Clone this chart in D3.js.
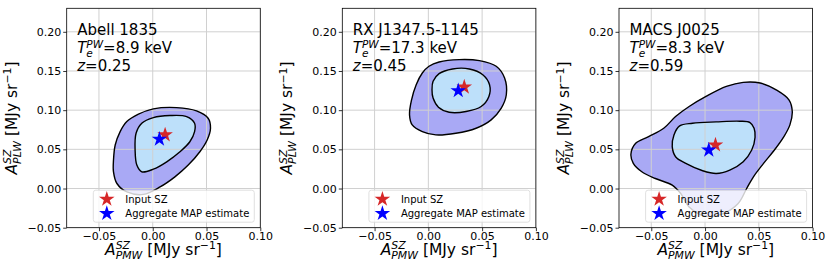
<!DOCTYPE html>
<html>
<head>
<meta charset="utf-8">
<script src="https://cdn.jsdelivr.net/npm/d3@7"></script>
<style>
  body { margin: 0; background: #fff; }
  svg { font-family: "DejaVu Sans", sans-serif; }
</style>
</head>
<body>
<div id="chart"></div>
<script>
// cluster info
const clusters = ["Abell 1835", "RX J1347.5-1145", "MACS J0025"];
const temps = ["8.9", "17.3", "8.3"];
const redshifts = ["0.25", "0.45", "0.59"];

// star markers [A_PMW, A_PLW]
const inputSZ = [[0.0115, 0.0685], [0.0334, 0.1295], [0.0097, 0.0556]];
const mapEstimate = [[0.0062, 0.0630], [0.0278, 0.1248], [0.0035, 0.0491]];

// outer (95%) contours
const outer1 = [[-0.0365, 0.0363], [-0.0349, 0.0555], [-0.0303, 0.0726], [-0.0241, 0.0854], [-0.0133, 0.0949],
  [0.0006, 0.1017], [0.0222, 0.1033], [0.0407, 0.0991], [0.0515, 0.0897], [0.0537, 0.0769], [0.0506, 0.0619],
  [0.0438, 0.0469], [0.0330, 0.0299], [0.0206, 0.0149], [0.0068, 0.0020], [-0.0087, -0.0075],
  [-0.0240, -0.0044], [-0.0333, 0.0064], [-0.0365, 0.0213]];
const outer2 = [[0.0006, 0.1560], [0.0100, 0.1615], [0.0288, 0.1645], [0.0475, 0.1632], [0.0631, 0.1560],
  [0.0709, 0.1410], [0.0725, 0.1197], [0.0678, 0.1026], [0.0584, 0.0876], [0.0444, 0.0769], [0.0256, 0.0705],
  [0.0069, 0.0684], [-0.0056, 0.0726], [-0.0150, 0.0812], [-0.0175, 0.0940], [-0.0156, 0.1132],
  [-0.0113, 0.1325], [-0.0056, 0.1474]];
const outer3 = [[-0.0689, 0.0440], [-0.0645, 0.0577], [-0.0525, 0.0662], [-0.0384, 0.0769], [-0.0274, 0.0919],
  [-0.0148, 0.1047], [0.0009, 0.1175], [0.0198, 0.1303], [0.0355, 0.1355], [0.0513, 0.1346], [0.0670, 0.1252],
  [0.0780, 0.1132], [0.0811, 0.0983], [0.0789, 0.0812], [0.0733, 0.0662], [0.0645, 0.0491], [0.0544, 0.0321],
  [0.0450, 0.0150], [0.0387, 0.0000], [0.0308, -0.0192], [0.0167, -0.0321], [0.0009, -0.0355],
  [-0.0148, -0.0235], [-0.0226, -0.0064], [-0.0305, 0.0043], [-0.0462, 0.0128], [-0.0588, 0.0214],
  [-0.0667, 0.0321]];

// inner (68%) contours
const inner1 = [[-0.0155, 0.0705], [-0.0102, 0.0833], [0.0006, 0.0905], [0.0160, 0.0931], [0.0315, 0.0918],
  [0.0389, 0.0833], [0.0389, 0.0726], [0.0345, 0.0597], [0.0253, 0.0469], [0.0130, 0.0341], [0.0006, 0.0247],
  [-0.0102, 0.0213], [-0.0148, 0.0299], [-0.0164, 0.0491]];
const inner2 = [[0.0044, 0.1368], [0.0100, 0.1466], [0.0225, 0.1526], [0.0381, 0.1526], [0.0506, 0.1453],
  [0.0569, 0.1325], [0.0563, 0.1175], [0.0491, 0.1047], [0.0350, 0.0983], [0.0194, 0.0974], [0.0094, 0.1038],
  [0.0044, 0.1154], [0.0034, 0.1261]];
const inner3 = [[-0.0289, 0.0684], [-0.0236, 0.0799], [-0.0116, 0.0833], [0.0104, 0.0850], [0.0324, 0.0859],
  [0.0418, 0.0842], [0.0456, 0.0769], [0.0465, 0.0654], [0.0434, 0.0491], [0.0355, 0.0342], [0.0230, 0.0235],
  [0.0104, 0.0192], [-0.0022, 0.0227], [-0.0179, 0.0321], [-0.0274, 0.0406], [-0.0305, 0.0534]];

const outerContours = [outer1, outer2, outer3];
const innerContours = [inner1, inner2, inner3];

const xTicks = [-0.05, 0.00, 0.05, 0.10];
const yTicks = [-0.05, 0.00, 0.05, 0.10, 0.15, 0.20];
const legendLabels = ["Input SZ", "Aggregate MAP estimate"];

const W = 830, H = 272;
const panelLeft = [66.7, 342.3, 619];
const pw = 193.6, plotTop = 8.3, ph = 219.4;

const svg = d3.select("#chart").append("svg")
  .attr("width", W).attr("height", H);

// draws a row of text pieces (with super/subscripts), returns width
function mathText(g, parts, size) {
  let x = 0, prevStart = 0, prevW = 0;
  parts.forEach(p => {
    const fs = p.script ? size * 0.7 : size;
    let start = p.stack ? prevStart : x;
    const dy = p.script === "sup" ? -size * 0.34 : p.script === "sub" ? size * 0.25 : 0;
    const t = g.append("text")
      .attr("x", start).attr("y", dy)
      .attr("font-size", fs)
      .attr("font-style", p.italic ? "italic" : "normal")
      .attr("fill", "#000")
      .text(p.t);
    const w = t.node().getComputedTextLength();
    if (p.stack) x = Math.max(prevStart + prevW, start + w);
    else x = start + w;
    prevStart = start; prevW = w;
  });
  return x;
}

const fmt = d3.format(".2f");

clusters.forEach((name, i) => {
  const x = d3.scaleLinear().domain([-0.08, 0.10]).range([panelLeft[i], panelLeft[i] + pw]);
  const y = d3.scaleLinear().domain([-0.05, 0.23]).range([plotTop + ph, plotTop]);

  const g = svg.append("g");
  const clipId = "clip" + i;
  g.append("clipPath").attr("id", clipId).append("rect")
    .attr("x", panelLeft[i]).attr("y", plotTop).attr("width", pw).attr("height", ph);

  const line = d3.line().x(d => x(d[0])).y(d => y(d[1])).curve(d3.curveCatmullRomClosed.alpha(0.5));
  const plot = g.append("g").attr("clip-path", `url(#${clipId})`);

  plot.append("path").attr("d", line(outerContours[i]))
    .attr("fill", "#a9a9f5").attr("stroke", "none");
  plot.append("path").attr("d", line(innerContours[i]))
    .attr("fill", "#bde0fa").attr("stroke", "none");

  // grid
  plot.selectAll(".gx").data(xTicks).enter().append("line")
    .attr("x1", d => x(d)).attr("x2", d => x(d))
    .attr("y1", plotTop).attr("y2", plotTop + ph)
    .attr("stroke", "#d0d0d0").attr("stroke-width", 1);
  plot.selectAll(".gy").data(yTicks).enter().append("line")
    .attr("x1", panelLeft[i]).attr("x2", panelLeft[i] + pw)
    .attr("y1", d => y(d)).attr("y2", d => y(d))
    .attr("stroke", "#d0d0d0").attr("stroke-width", 1);

  plot.append("path").attr("d", line(outerContours[i]))
    .attr("fill", "none").attr("stroke", "#000").attr("stroke-width", 1.4);
  plot.append("path").attr("d", line(innerContours[i]))
    .attr("fill", "none").attr("stroke", "#000").attr("stroke-width", 1.4);

  const star = d3.symbol().type(d3.symbolStar).size(75);
  plot.append("path").attr("d", star)
    .attr("transform", `translate(${x(inputSZ[i][0])},${y(inputSZ[i][1])})`)
    .attr("fill", "#d62728");
  plot.append("path").attr("d", star)
    .attr("transform", `translate(${x(mapEstimate[i][0])},${y(mapEstimate[i][1])})`)
    .attr("fill", "#0000ff");

  // axes
  const xAxis = g.append("g").attr("transform", `translate(0,${plotTop + ph})`)
    .call(d3.axisBottom(x).tickValues(xTicks).tickFormat(fmt).tickSize(3.5).tickPadding(1));
  const yAxis = g.append("g").attr("transform", `translate(${panelLeft[i]},0)`)
    .call(d3.axisLeft(y).tickValues(yTicks).tickFormat(fmt).tickSize(3.5).tickPadding(2));
  [xAxis, yAxis].forEach(a => {
    a.select(".domain").remove();
    a.selectAll("text").attr("font-size", 11).attr("font-family", "DejaVu Sans").attr("fill", "#000");
    a.selectAll("line").attr("stroke", "#000").attr("stroke-width", 0.8);
  });
  g.append("rect").attr("x", panelLeft[i]).attr("y", plotTop).attr("width", pw).attr("height", ph)
    .attr("fill", "none").attr("stroke", "#000").attr("stroke-width", 0.8);

  // annotation
  const ann = g.append("g").attr("transform", `translate(${panelLeft[i] + 10.5},0)`);
  ann.append("text").attr("y", 35).attr("font-size", 15).attr("fill", "#000").text(name);
  const tl = ann.append("g").attr("transform", "translate(0,53)");
  mathText(tl, [
    { t: "T", italic: true },
    { t: "PW", italic: true, script: "sup" },
    { t: "e", italic: true, script: "sub", stack: true },
    { t: "=" + temps[i] + "\u00a0keV" }
  ], 15);
  const zl = ann.append("g").attr("transform", "translate(0,70.5)");
  mathText(zl, [{ t: "z", italic: true }, { t: "=" + redshifts[i] }], 15);

  // legend
  const lw = 161, lh = 32;
  const lx = panelLeft[i] + pw - 6 - lw, ly = plotTop + ph - 5.5 - lh;
  const leg = g.append("g");
  leg.append("rect").attr("x", lx).attr("y", ly).attr("width", lw).attr("height", lh)
    .attr("rx", 2.5).attr("fill", "#fff").attr("fill-opacity", 0.8)
    .attr("stroke", "#d8d8d8").attr("stroke-width", 0.8);
  [["#d62728", 0], ["#0000ff", 1]].forEach(([c, k]) => {
    leg.append("path").attr("d", star)
      .attr("transform", `translate(${lx + 13.5},${ly + 9 + k * 14.3})`)
      .attr("fill", c);
    leg.append("text").attr("x", lx + 32).attr("y", ly + 9 + k * 14.3).attr("dy", "0.35em")
      .attr("font-size", 10).attr("fill", "#000").text(legendLabels[k]);
  });

  // x label
  const xl = g.append("g");
  const xw = mathText(xl, [
    { t: "A", italic: true },
    { t: "SZ", italic: true, script: "sup" },
    { t: "PMW", italic: true, script: "sub", stack: true },
    { t: "\u00a0[MJy\u00a0sr" },
    { t: "−1", script: "sup" },
    { t: "]" }
  ], 15.5);
  xl.attr("transform", `translate(${panelLeft[i] + pw / 2 - xw / 2},${plotTop + ph + 27})`);

  // y label
  const yl = g.append("g");
  const yw = mathText(yl, [
    { t: "A", italic: true },
    { t: "SZ", italic: true, script: "sup" },
    { t: "PLW", italic: true, script: "sub", stack: true },
    { t: "\u00a0[MJy\u00a0sr" },
    { t: "−1", script: "sup" },
    { t: "]" }
  ], 15.5);
  yl.attr("transform", `translate(${panelLeft[i] - 50},${plotTop + ph / 2 + yw / 2}) rotate(-90)`);
});
</script>
</body>
</html>
